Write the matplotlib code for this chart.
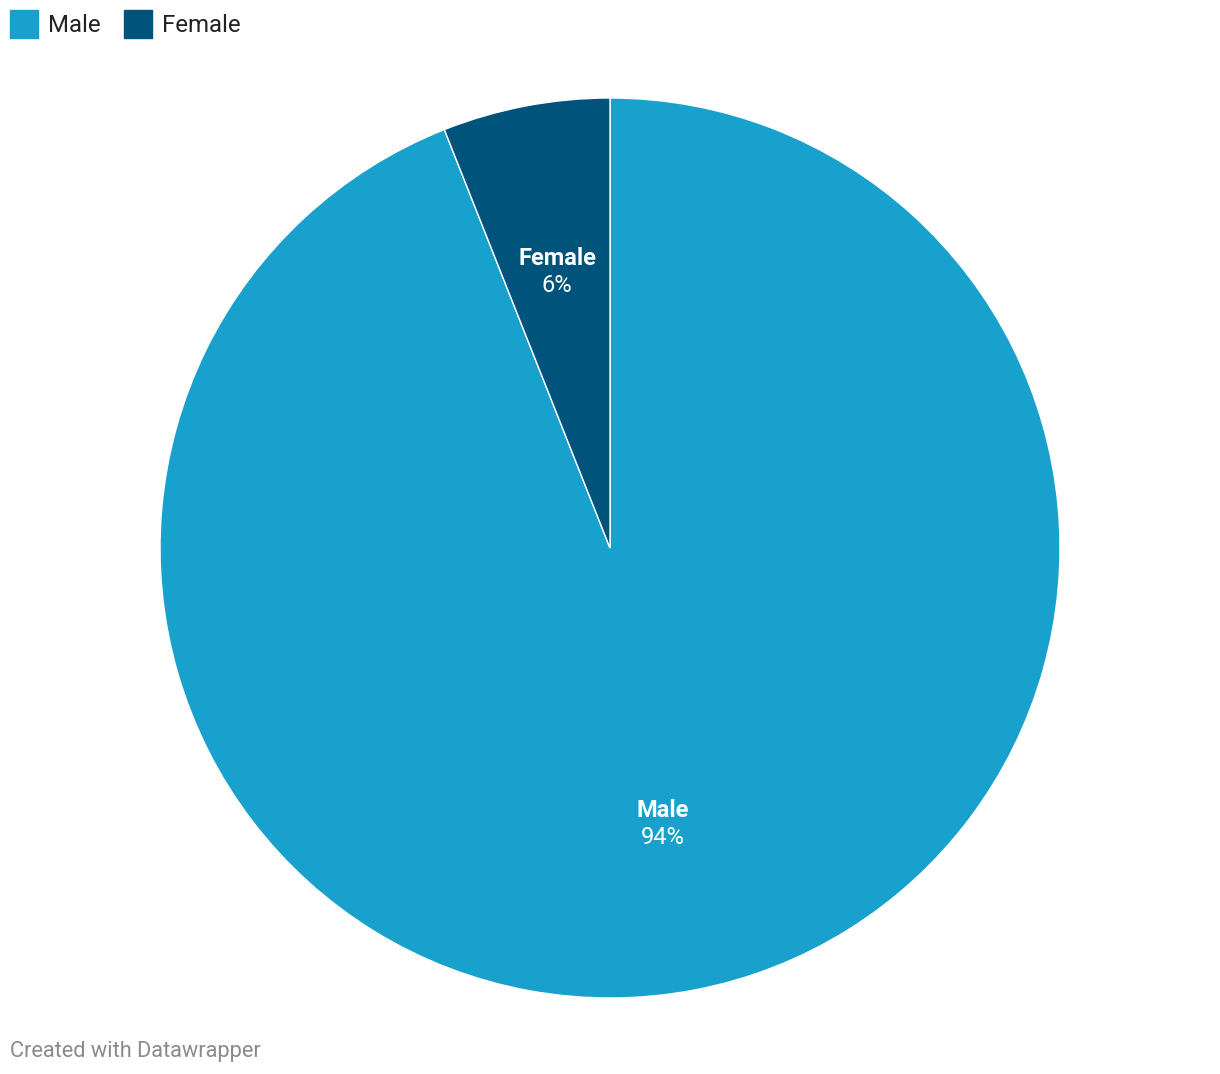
import numpy as np
import matplotlib.pyplot as plt
from matplotlib.patches import Rectangle

labels = ['Male', 'Female']
values = [94, 6]
colors = ['#18a1cd', '#00537a']

plt.rcParams['font.family'] = ['Roboto', 'DejaVu Sans']

W, H = 1220, 1074
fig = plt.figure(figsize=(W / 100, H / 100), dpi=100)

# pie axes: centre (610, 548), radius 450 px
ax = fig.add_axes([160 / W, (H - 998) / H, 900 / W, 900 / H])
wedges, _ = ax.pie(values, colors=colors, startangle=90, counterclock=False,
                   radius=1, wedgeprops=dict(edgecolor='white', linewidth=1))
ax.set_xlim(-1, 1)
ax.set_ylim(-1, 1)
ax.set_aspect('equal')
ax.axis('off')

# slice labels
total = float(sum(values))
start = 90.0
for lab, v in zip(labels, values):
    span = 360.0 * v / total
    mid = np.deg2rad(start - span / 2.0)
    start -= span
    x, y = 0.625 * np.cos(mid), 0.625 * np.sin(mid)
    ax.text(x, y + 0.03, lab, ha='center', va='center', color='white',
            fontsize=17, fontweight='bold')
    ax.text(x, y - 0.03, '%d%%' % round(100 * v / total), ha='center',
            va='center', color='white', fontsize=17)

# legend
lx = 10
for lab, c in zip(labels, colors):
    fig.patches.append(Rectangle((lx / W, 1 - 38 / H), 28 / W, 28 / H,
                                 transform=fig.transFigure, color=c))
    fig.text((lx + 38) / W, 1 - 25 / H, lab, ha='left', va='center',
             fontsize=17.3, color='#222222')
    lx += 114

fig.text(10 / W, 1 - 1051 / H, 'Created with Datawrapper', ha='left',
         va='center', fontsize=15.7, color='#8a8a8a')

fig.savefig('out.png', dpi=100, facecolor='white')
